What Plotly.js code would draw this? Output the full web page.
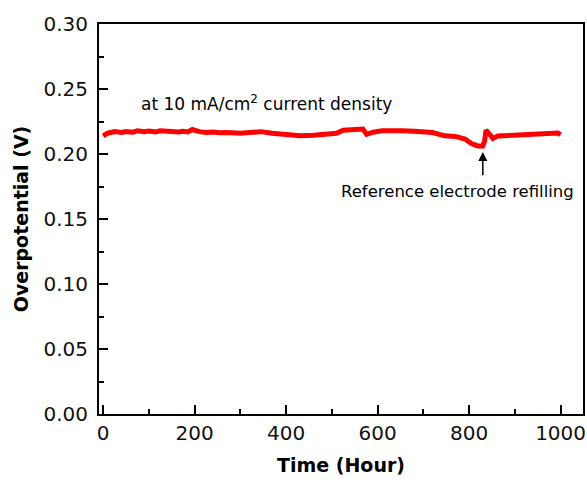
<!DOCTYPE html>
<html>
<head>
<meta charset="utf-8">
<script src="https://cdn.plot.ly/plotly-3.0.1.min.js"></script>
<style>html,body{margin:0;padding:0;background:#fff;}#chart{width:587px;height:483px;}</style>
</head>
<body>
<div id="chart"></div>
<script>
// Time (hours)
var timeHours = [0, 10, 25, 40, 50, 65, 75, 90, 100, 115, 125, 140, 150, 165, 175, 185, 195, 205, 210, 225, 240, 255, 270, 300, 330, 345, 370, 400, 430, 460, 490, 510, 525, 550, 568, 576, 590, 610, 634, 655, 680, 700, 720, 747, 770, 791, 805, 819, 830, 834, 837, 845, 852, 863, 880, 900, 922, 945, 960, 975, 994, 1000];
// Overpotential (V)
var overpotential = [0.2140, 0.2160, 0.2172, 0.2166, 0.2172, 0.2168, 0.2178, 0.2171, 0.2177, 0.2170, 0.2178, 0.2172, 0.2177, 0.2170, 0.2174, 0.2170, 0.2188, 0.2174, 0.2172, 0.2166, 0.2170, 0.2164, 0.2166, 0.2160, 0.2168, 0.2172, 0.2160, 0.2150, 0.2141, 0.2145, 0.2150, 0.2159, 0.2183, 0.2185, 0.2192, 0.2151, 0.2168, 0.2178, 0.2183, 0.2178, 0.2175, 0.2172, 0.2165, 0.2140, 0.2135, 0.2115, 0.2080, 0.2062, 0.2062, 0.2100, 0.2185, 0.2150, 0.2120, 0.2138, 0.2142, 0.2148, 0.2151, 0.2155, 0.2160, 0.2158, 0.2162, 0.2148];
var xTicks = [0, 200, 400, 600, 800, 1000];
var yTicks = [0.00, 0.05, 0.10, 0.15, 0.20, 0.25, 0.30];
var yTickLabels = ["0.00", "0.05", "0.10", "0.15", "0.20", "0.25", "0.30"];

var font = "DejaVu Sans, Arial, sans-serif";

var trace = {
  x: timeHours, y: overpotential, type: "scatter", mode: "lines",
  line: {color: "#ff0000", width: 5, shape: "linear"},
  showlegend: false, hoverinfo: "skip"
};

var axisCommon = {
  showgrid: false, zeroline: false, showline: true, linecolor: "#000", linewidth: 2,
  mirror: true, ticks: "inside", ticklen: 9, tickwidth: 2, tickcolor: "#000",
  tickfont: {family: font, size: 20, color: "#111"},
  minor: {ticks: "inside", ticklen: 5, tickwidth: 2, tickcolor: "#000", showgrid: false}
};

var layout = {
  width: 587, height: 483,
  margin: {l: 99, r: 4, t: 24, b: 69},
  paper_bgcolor: "#fff", plot_bgcolor: "#fff",
  font: {family: font, color: "#000"},
  xaxis: Object.assign({}, axisCommon, {
    range: [-9, 1049], tickmode: "array", tickvals: xTicks,
    minor: Object.assign({}, axisCommon.minor, {dtick: 100, tick0: 0}),
    title: {text: "<b>Time (Hour)</b>", font: {family: font, size: 19, color: "#000"}, standoff: 15}
  }),
  yaxis: Object.assign({}, axisCommon, {
    range: [0, 0.3], tickmode: "array", tickvals: yTicks, ticktext: yTickLabels,
    minor: Object.assign({}, axisCommon.minor, {dtick: 0.025, tick0: 0}),
    ticklabelstandoff: 5,
    title: {text: "<b>Overpotential (V)</b>", font: {family: font, size: 19, color: "#000"}, standoff: 10}
  }),
  annotations: [
    {x: 78.7, y: 0.2392, xref: "x", yref: "y", xanchor: "left", yanchor: "middle",
     text: "at 10 mA/cm<sup>2</sup> current density", showarrow: false,
     font: {family: font, size: 17, color: "#000"}},
    {x: 515.6, y: 0.1715, xref: "x", yref: "y", xanchor: "left", yanchor: "middle",
     text: "Reference electrode refilling", showarrow: false,
     font: {family: font, size: 16.5, color: "#000"}},
    {x: 830, y: 0.2015, xref: "x", yref: "y", ax: 830, ay: 0.1825, axref: "x", ayref: "y",
     text: "", showarrow: true, arrowhead: 2, arrowsize: 1.2, arrowwidth: 1.5, arrowcolor: "#000"}
  ]
};

Plotly.newPlot("chart", [trace], layout, {staticPlot: true, displayModeBar: false});
</script>
</body>
</html>
